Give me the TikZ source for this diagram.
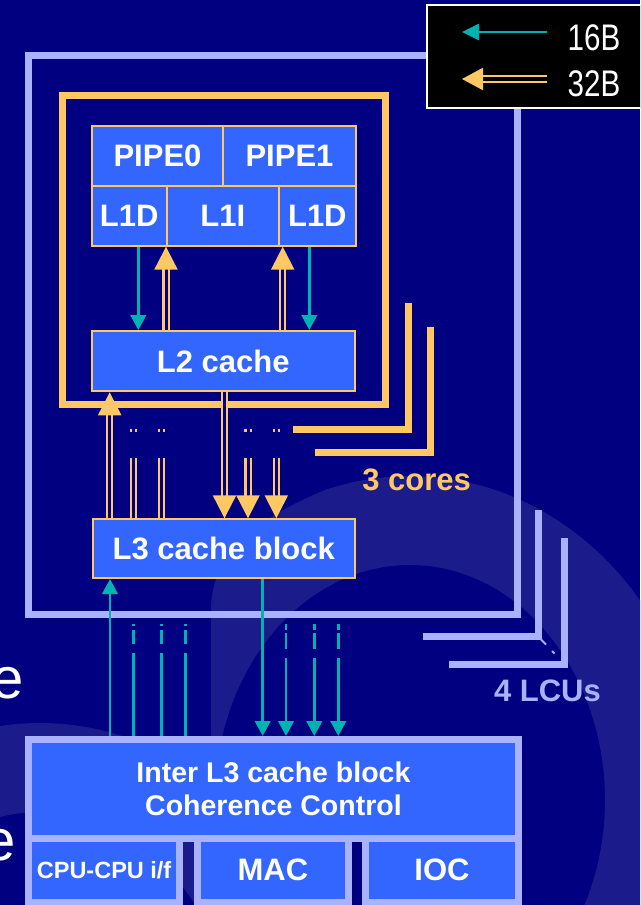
\documentclass[tikz,border=0pt]{standalone}
\usepackage{fontspec}
\setmainfont{Liberation Sans}
\newfontfamily\legfont[FakeStretch=0.8]{Liberation Sans}
\usetikzlibrary{arrows.meta}
\definecolor{bgnavy}{HTML}{000080}
\definecolor{ringc}{HTML}{1B1B8B}
\definecolor{boxblue}{HTML}{3366FF}
\definecolor{ylw}{HTML}{FFC864}
\definecolor{lav}{HTML}{AAB2FF}
\definecolor{tealc}{HTML}{00B2B2}
\begin{document}
\begin{tikzpicture}[x=1pt,y=-1pt,
  yb/.style={draw=ylw, line width=2pt, fill=boxblue, text=white, font=\bfseries\fontsize{31}{36}\selectfont, inner sep=0pt},
  lb/.style={draw=lav, line width=7pt, fill=boxblue, text=white, font=\bfseries\fontsize{31}{36}\selectfont, inner sep=0pt},
  tarr/.style={draw=tealc, line width=2.6pt, -{Triangle[length=15pt,width=15.5pt]}},
  tline/.style={draw=tealc, line width=2.6pt},
  yarr/.style={draw=ylw, line width=2.2pt, double=bgnavy, double distance=3pt, -{Triangle[length=23pt,width=23pt]}},
  yline/.style={draw=ylw, line width=2.2pt, double=bgnavy, double distance=3pt},
  yframe/.style={draw=ylw, line width=7pt},
  lframe/.style={draw=lav, line width=7pt},
  lbl/.style={font=\bfseries\fontsize{31}{36}\selectfont, inner sep=0pt, anchor=base}
]
\useasboundingbox (0,0) rectangle (640,905);
\clip (0,0) rectangle (640,905);
% background
\fill[bgnavy] (0,0) rectangle (640,905);
\begin{scope}
  \clip (211,1000) -- (211,610) .. controls (211,560) and (245,522) .. (330,488)
        -- (330,300) -- (700,300) -- (700,1000) -- cycle;
  \fill[ringc, even odd rule] (410,800) ellipse[x radius=292pt, y radius=324pt]
                              (410,800) ellipse[x radius=195pt, y radius=235pt];
\end{scope}
\fill[ringc, even odd rule] (40,1047) ellipse[x radius=292pt, y radius=324pt]
                            (40,1047) ellipse[x radius=195pt, y radius=235pt];
\node[anchor=base west, inner sep=0pt, text=white, font=\fontsize{58}{58}\selectfont] (e1) at (-9,698) {e};
\node[anchor=base west, inner sep=0pt, text=white, font=\fontsize{58}{58}\selectfont] (e2) at (-17,860) {e};

% LCU frame and stacked Ls
\draw[lframe] (28.5,55.5) rectangle (517.5,614.5);
\draw[lframe] (538.8,510) -- (538.8,636) -- (423.3,636);
\draw[lframe] (564.7,538.3) -- (564.7,664) -- (449,664);
\draw[lav, line width=2pt] (541,639.5) -- (546,644.5);
\draw[lav, line width=2pt] (552,651) -- (554.5,653.5);

% core frame and stacked Ls
\draw[yframe] (62.5,95.5) rectangle (385.5,404.5);
\draw[yframe] (408.7,303) -- (408.7,429) -- (293,429);
\draw[yframe] (430.3,327) -- (430.3,452.5) -- (315,452.5);

% blocks
\node[yb, minimum width=131.6pt, minimum height=60pt] (pipe0) at (157.5,156) {PIPE0};
\node[yb, minimum width=132.4pt, minimum height=60pt] (pipe1) at (289.5,156) {PIPE1};
\node[yb, minimum width=75pt, minimum height=59.7pt] (L1Da) at (129.2,215.85) {L1D};
\node[yb, minimum width=112.3pt, minimum height=59.7pt] (L1I) at (222.85,215.85) {L1I};
\node[yb, minimum width=76.7pt, minimum height=59.7pt] (L1Db) at (317.35,215.85) {L1D};
\node[yb, minimum width=263pt, minimum height=60.3pt] (L2) at (223.2,361.15) {L2 cache};
\node[yb, minimum width=262pt, minimum height=58.7pt] (L3) at (223.7,548.65) {L3 cache block};

\node[lb, minimum width=150.6pt, minimum height=63.8pt, font=\bfseries\fontsize{23.5}{26}\selectfont] (cpu) at (104.1,870.1) {CPU-CPU i/f};
\node[lb, minimum width=150.9pt, minimum height=63.8pt] (mac) at (272.85,870.1) {MAC};
\node[lb, minimum width=152.2pt, minimum height=63.8pt] (ioc) at (442,870.1) {IOC};
\node[lb, minimum width=489.3pt, minimum height=98.7pt, align=center, font=\bfseries\fontsize{28.5}{33}\selectfont] (inter) at (273.45,788.85) {Inter L3 cache block\\Coherence Control};

% x positions
\coordinate (xa) at (138.3,0);
\coordinate (xb) at (166,0);
\coordinate (xc) at (282.7,0);
\coordinate (xd) at (309.3,0);
\coordinate (xe) at (109.7,0);
\coordinate (xf) at (224.5,0);
\coordinate (xg) at (110,0);
\coordinate (xh) at (262.7,0);

% L1 <-> L2
\draw[tarr] (L1Da.south -| xa) -- (L2.north -| xa);
\draw[yarr] (L2.north -| xb) -- (L1Da.south -| xb);
\draw[yarr] (L2.north -| xc) -- (L1Db.south -| xc);
\draw[tarr] (L1Db.south -| xd) -- (L2.north -| xd);

% L2 <-> L3
\draw[yarr] (L3.north -| xe) -- (L2.south -| xe);
\draw[yarr] (L2.south -| xf) -- (L3.north -| xf);
\coordinate (s1) at (133.3,429);
\coordinate (s2) at (161.5,429);
\coordinate (s3) at (248,429);
\coordinate (s4) at (276.3,429);
\draw[yline, dash pattern=on 60pt off 26pt on 3pt] (L3.north -| s1) -- (s1);
\draw[yline, dash pattern=on 60pt off 26pt on 3pt] (L3.north -| s2) -- (s2);
\draw[yarr, dash pattern=on 3pt off 26pt on 200pt] (s3) -- (L3.north -| s3);
\draw[yarr, dash pattern=on 3pt off 26pt on 200pt] (s4) -- (L3.north -| s4);

% L3 <-> Inter
\draw[tarr] (inter.north -| xg) -- (L3.south -| xg);
\draw[tarr] (L3.south -| xh) -- (inter.north -| xh);
\coordinate (u1) at (133.3,624);
\coordinate (u2) at (161.6,624);
\coordinate (u3) at (185.7,624);
\coordinate (d1) at (286,624);
\coordinate (d2) at (314.3,624);
\coordinate (d3) at (338.3,624);
\foreach \u in {u1,u2,u3}
  \draw[tline, dash pattern=on 83pt off 9pt on 14pt off 4pt on 2pt] (inter.north -| \u) -- (\u);
\foreach \d in {d1,d2,d3}
  \draw[tarr, dash pattern=on 6pt off 3pt on 16pt off 9pt on 200pt] (\d) -- (inter.north -| \d);

% labels
\node[lbl, text=ylw] (cores) at (416.7,490) {3 cores};
\node[lbl, text=lav] (lcus) at (547.5,701.7) {4 LCUs};

% legend
\draw[white, line width=1.5pt, fill=black] (427,5) rectangle (650,108);
\coordinate (l1a) at (547,32);
\coordinate (l1b) at (462,32);
\coordinate (l2a) at (547,79);
\coordinate (l2b) at (462,79);
\draw[tealc, line width=2.8pt, -{Triangle[length=17pt,width=16pt]}] (l1a) -- (l1b);
\draw[draw=ylw, line width=2.2pt, double=black, double distance=3.2pt, -{Triangle[length=21pt,width=22pt]}] (l2a) -- (l2b);
\node[anchor=base, text=white, inner sep=0pt, font=\legfont\fontsize{37}{40}\selectfont] (t16) at (594,50) {16B};
\node[anchor=base, text=white, inner sep=0pt, font=\legfont\fontsize{37}{40}\selectfont] (t32) at (594,96.7) {32B};
\end{tikzpicture}
\end{document}
